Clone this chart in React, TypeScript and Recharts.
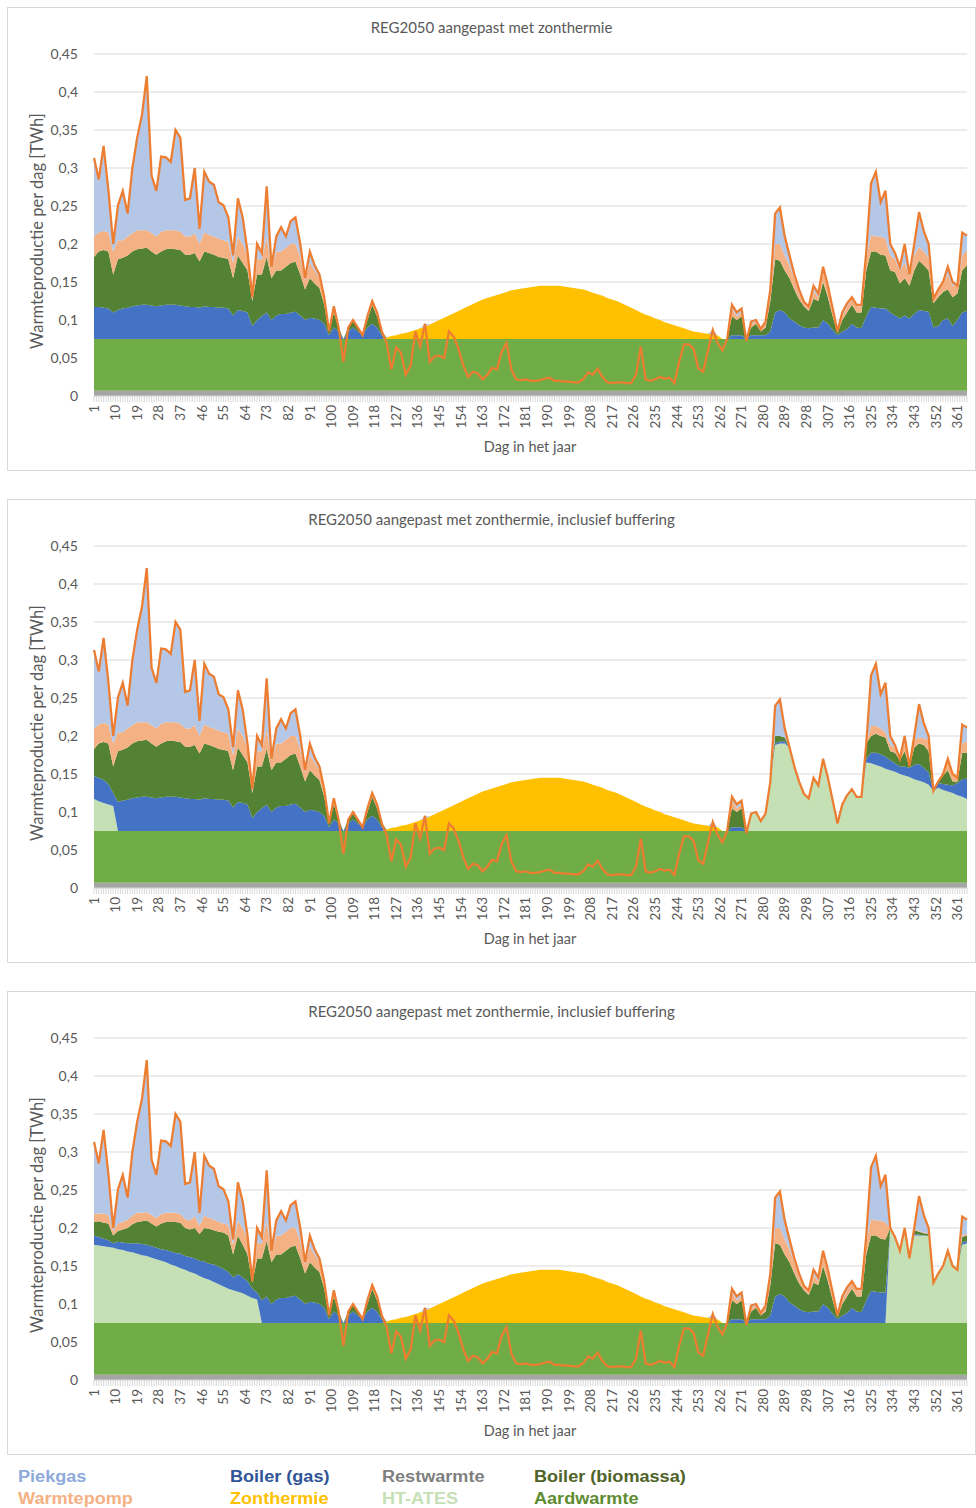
import React from 'react';
import { ComposedChart, Area, Line, XAxis, YAxis, CartesianGrid } from 'recharts';

// ---------- DATA (TWh per day), sampled every 2 days: day 1,3,5,...,365 ----------
const demand = [
  0.313, 0.285, 0.329, 0.271, 0.2, 0.251, 0.27, 0.24, 0.3, 0.34,
  0.37, 0.421, 0.29, 0.27, 0.315, 0.314, 0.308, 0.35, 0.34, 0.258,
  0.26, 0.3, 0.22, 0.295, 0.282, 0.278, 0.255, 0.251, 0.235, 0.185,
  0.26, 0.235, 0.19, 0.13, 0.2, 0.188, 0.276, 0.17, 0.21, 0.222,
  0.21, 0.23, 0.235, 0.2, 0.155, 0.19, 0.172, 0.16, 0.13, 0.085,
  0.118, 0.09, 0.045, 0.09, 0.1, 0.09, 0.08, 0.105, 0.125, 0.11,
  0.085, 0.07, 0.035, 0.064, 0.057, 0.028, 0.04, 0.085, 0.065, 0.095,
  0.045, 0.052, 0.053, 0.05, 0.085, 0.078, 0.062, 0.04, 0.025, 0.032,
  0.03, 0.022, 0.028, 0.037, 0.035, 0.058, 0.07, 0.035, 0.022, 0.021,
  0.022, 0.02, 0.02, 0.021, 0.023, 0.024, 0.02, 0.02, 0.019, 0.019,
  0.018, 0.018, 0.022, 0.031, 0.028, 0.036, 0.025, 0.018, 0.017, 0.018,
  0.018, 0.017, 0.017, 0.028, 0.065, 0.022, 0.02, 0.022, 0.025, 0.023,
  0.024, 0.017, 0.045, 0.068, 0.068, 0.062, 0.036, 0.032, 0.06, 0.087,
  0.07, 0.06, 0.075, 0.12, 0.11, 0.115, 0.072, 0.098, 0.1, 0.088,
  0.098, 0.14, 0.24, 0.248, 0.21, 0.185, 0.16, 0.14, 0.124, 0.118,
  0.145, 0.135, 0.17, 0.145, 0.115, 0.085, 0.11, 0.122, 0.13, 0.12,
  0.12, 0.19, 0.28, 0.295, 0.255, 0.27, 0.2, 0.188, 0.17, 0.2,
  0.16, 0.2, 0.242, 0.217, 0.2, 0.128, 0.14, 0.15, 0.17, 0.15,
  0.145, 0.215, 0.211,
];

const restwarmte = 0.007;
const aardwarmte = 0.068;

// Zonthermie thickness, days 123..263
const zonStart = 123;
const zonthermie = [
  0.002, 0.004, 0.005, 0.007, 0.008, 0.01, 0.012, 0.014, 0.016, 0.019,
  0.022, 0.025, 0.028, 0.031, 0.034, 0.037, 0.04, 0.043, 0.046, 0.049,
  0.052, 0.054, 0.056, 0.058, 0.06, 0.062, 0.064, 0.065, 0.066, 0.067,
  0.068, 0.069, 0.07, 0.07, 0.07, 0.07, 0.07, 0.069, 0.068, 0.067,
  0.066, 0.065, 0.063, 0.061, 0.059, 0.057, 0.054, 0.052, 0.05, 0.047,
  0.044, 0.041, 0.038, 0.035, 0.032, 0.03, 0.027, 0.025, 0.022, 0.02,
  0.018, 0.016, 0.014, 0.012, 0.01, 0.009, 0.008, 0.007, 0.006, 0.005,
  0,
];

// Chart 1 layer top levels (absolute), spring days 1..123 and autumn days 263..365
const gasTopSpring = [
  0.117, 0.117, 0.116, 0.115, 0.11, 0.113, 0.115, 0.116, 0.118, 0.119,
  0.12, 0.12, 0.119, 0.118, 0.119, 0.12, 0.12, 0.12, 0.119, 0.118,
  0.117, 0.117, 0.116, 0.118, 0.117, 0.117, 0.116, 0.116, 0.115, 0.106,
  0.113, 0.112, 0.11, 0.092, 0.1, 0.105, 0.11, 0.1, 0.106, 0.108,
  0.108, 0.11, 0.111, 0.106, 0.1, 0.103, 0.102, 0.1, 0.095, 0.08,
  0.09, 0.085, 0.075, 0.085, 0.09, 0.085, 0.08, 0.09, 0.095, 0.09,
  0.08, 0.075,
];
const bioTopSpring = [
  0.183, 0.19, 0.192, 0.19, 0.16, 0.18, 0.182, 0.185, 0.19, 0.193,
  0.194, 0.195, 0.19, 0.186, 0.19, 0.193, 0.194, 0.193, 0.192, 0.186,
  0.186, 0.188, 0.177, 0.19, 0.188, 0.186, 0.183, 0.182, 0.18, 0.155,
  0.185, 0.175, 0.165, 0.125, 0.16, 0.16, 0.183, 0.155, 0.165, 0.165,
  0.17, 0.175, 0.177, 0.16, 0.14, 0.155, 0.148, 0.142, 0.12, 0.085,
  0.11, 0.09, 0.075, 0.09, 0.1, 0.09, 0.08, 0.1, 0.12, 0.105,
  0.085, 0.075,
];
const wpTopSpring = [
  0.21, 0.215, 0.217, 0.215, 0.19, 0.205, 0.205, 0.21, 0.214, 0.218,
  0.218, 0.218, 0.214, 0.21, 0.216, 0.218, 0.218, 0.218, 0.216, 0.21,
  0.21, 0.214, 0.2, 0.215, 0.212, 0.21, 0.207, 0.205, 0.203, 0.175,
  0.21, 0.2, 0.185, 0.128, 0.18, 0.18, 0.21, 0.168, 0.19, 0.19,
  0.195, 0.2, 0.2, 0.183, 0.152, 0.175, 0.165, 0.155, 0.128, 0.085,
  0.118, 0.09, 0.075, 0.09, 0.1, 0.09, 0.08, 0.105, 0.125, 0.11,
  0.085, 0.075,
];
const gasTopAutumn = [
  0.075, 0.075, 0.08, 0.08, 0.08, 0.075, 0.08, 0.08, 0.08, 0.08,
  0.085, 0.11, 0.113, 0.11, 0.102, 0.098, 0.093, 0.09, 0.089, 0.09,
  0.09, 0.1, 0.095, 0.087, 0.08, 0.085, 0.088, 0.095, 0.09, 0.089,
  0.105, 0.117, 0.116, 0.115, 0.115, 0.11, 0.106, 0.102, 0.106, 0.102,
  0.108, 0.113, 0.112, 0.111, 0.09, 0.092, 0.1, 0.102, 0.092, 0.1,
  0.11, 0.112,
];
const bioTopAutumn = [
  0.06, 0.075, 0.105, 0.1, 0.105, 0.072, 0.09, 0.095, 0.085, 0.09,
  0.125, 0.18, 0.178, 0.165, 0.155, 0.14, 0.127, 0.118, 0.112, 0.128,
  0.125, 0.15, 0.13, 0.105, 0.083, 0.1, 0.11, 0.12, 0.11, 0.11,
  0.165, 0.19, 0.19, 0.186, 0.185, 0.165, 0.163, 0.148, 0.155, 0.145,
  0.165, 0.178, 0.172, 0.165, 0.122, 0.13, 0.137, 0.14, 0.13, 0.135,
  0.165, 0.172,
];
const wpTopAutumn = [
  0.06, 0.075, 0.115, 0.105, 0.11, 0.072, 0.095, 0.098, 0.087, 0.095,
  0.13, 0.2, 0.2, 0.185, 0.172, 0.155, 0.135, 0.122, 0.116, 0.138,
  0.13, 0.165, 0.14, 0.11, 0.085, 0.105, 0.118, 0.128, 0.118, 0.118,
  0.18, 0.212, 0.21, 0.21, 0.207, 0.185, 0.18, 0.165, 0.175, 0.158,
  0.185, 0.196, 0.19, 0.182, 0.126, 0.138, 0.148, 0.16, 0.145, 0.145,
  0.185, 0.192,
];

// Chart 2 (buffering): days 1..11 and 273..365 (0 = layer absent)
const ates2Spring = [0.117, 0.114, 0.112, 0.11, 0.108, 0];
const gas2Spring = [0.147, 0.145, 0.142, 0.137, 0.125, 0.113];
const ates2Autumn = [
  0.072, 0.098, 0.1, 0.088, 0.098, 0.14, 0.188, 0.19, 0.19, 0.185,
  0.16, 0.14, 0.124, 0.118, 0.145, 0.135, 0.17, 0.145, 0.115, 0.085,
  0.11, 0.122, 0.13, 0.12, 0.12, 0.165, 0.164, 0.162, 0.16, 0.157,
  0.155, 0.153, 0.15, 0.148, 0.146, 0.143, 0.141, 0.139, 0.136, 0.128,
  0.132, 0.129, 0.127, 0.125, 0.122, 0.12, 0.117,
];
const gas2Autumn = [
  0, 0, 0, 0, 0, 0, 0.19, 0.193, 0.193, 0,
  0, 0, 0, 0, 0, 0, 0, 0, 0, 0,
  0, 0, 0, 0, 0, 0.17, 0.178, 0.178, 0.176, 0.173,
  0.168, 0.164, 0.16, 0.16, 0.158, 0.162, 0.163, 0.158, 0.152, 0,
  0.138, 0.137, 0.136, 0.135, 0.138, 0.143, 0.144,
];
const bio2Autumn = [
  0, 0, 0, 0, 0, 0, 0.2, 0.2, 0.198, 0,
  0, 0, 0, 0, 0, 0, 0, 0, 0, 0,
  0, 0, 0, 0, 0, 0.19, 0.2, 0.203, 0.2, 0.198,
  0.18, 0.178, 0.168, 0.18, 0.16, 0.185, 0.19, 0.188, 0.18, 0,
  0.14, 0.148, 0.155, 0.14, 0.14, 0.178, 0.178,
];
const wp2Autumn = [
  0, 0, 0, 0, 0, 0, 0.2, 0.2, 0.198, 0,
  0, 0, 0, 0, 0, 0, 0, 0, 0, 0,
  0, 0, 0, 0, 0, 0.19, 0.213, 0.213, 0.21, 0.205,
  0.188, 0.185, 0.17, 0.19, 0.16, 0.195, 0.198, 0.197, 0.195, 0,
  0.14, 0.15, 0.17, 0.15, 0.145, 0.19, 0.193,
];

// Chart 3 (buffering): days 1..71 and 333..365
const ates3Spring = [
  0.178, 0.177, 0.176, 0.175, 0.174, 0.172, 0.171, 0.169, 0.168, 0.166,
  0.164, 0.163, 0.161, 0.159, 0.157, 0.155, 0.152, 0.15, 0.147, 0.145,
  0.142, 0.14, 0.137, 0.134, 0.132, 0.129, 0.126, 0.123, 0.12, 0.118,
  0.116, 0.114, 0.111, 0.108, 0.106, 0,
];
const gas3Spring = [
  0.19, 0.188, 0.186, 0.184, 0.18, 0.182, 0.181, 0.18, 0.18, 0.18,
  0.179, 0.178, 0.176, 0.174, 0.172, 0.171, 0.169, 0.167, 0.166, 0.163,
  0.162, 0.16, 0.157, 0.156, 0.153, 0.152, 0.149, 0.146, 0.142, 0.135,
  0.139, 0.135, 0.13, 0.12, 0.115, 0.105,
];
const bio3Spring = [
  0.208, 0.209, 0.207, 0.206, 0.19, 0.196, 0.198, 0.2, 0.205, 0.208,
  0.209, 0.21, 0.206, 0.202, 0.206, 0.208, 0.208, 0.208, 0.207, 0.2,
  0.198, 0.2, 0.192, 0.2, 0.199, 0.197, 0.195, 0.194, 0.19, 0.165,
  0.19, 0.178, 0.165, 0.128, 0.16, 0.16,
];
const wp3Spring = [
  0.218, 0.219, 0.219, 0.217, 0.196, 0.206, 0.208, 0.211, 0.216, 0.22,
  0.22, 0.221, 0.217, 0.213, 0.218, 0.22, 0.22, 0.22, 0.218, 0.212,
  0.21, 0.215, 0.203, 0.216, 0.213, 0.211, 0.208, 0.206, 0.204, 0.178,
  0.21, 0.2, 0.186, 0.13, 0.18, 0.18,
];
const ates3Autumn = [0.2, 0.188, 0.17, 0.2, 0.16, 0.19, 0.19, 0.19, 0.189, 0.128, 0.14, 0.15, 0.17, 0.15, 0.145, 0.178, 0.18];
const gas3Autumn = [0, 0, 0, 0, 0, 0.192, 0.191, 0.19, 0.19, 0, 0, 0, 0, 0, 0, 0.181, 0.183];
const bio3Autumn = [0, 0, 0, 0, 0, 0.197, 0.195, 0.193, 0.192, 0, 0, 0, 0, 0, 0, 0.188, 0.19];
const wp3Autumn = [0, 0, 0, 0, 0, 0.198, 0.196, 0.194, 0.193, 0, 0, 0, 0, 0, 0, 0.19, 0.192];

const xLabels = [1, 10, 19, 28, 37, 46, 55, 64, 73, 82, 91, 100, 109, 118, 127, 136, 145, 154, 163, 172, 181, 190, 199, 208, 217, 226, 235, 244, 253, 262, 271, 280, 289, 298, 307, 316, 325, 334, 343, 352, 361];
const yTicks = [0, 0.05, 0.1, 0.15, 0.2, 0.25, 0.3, 0.35, 0.4, 0.45];

// ---------- helpers ----------
type Seg = { start: number; values: number[] };
const lookup = (segs: Seg[], day: number): number => {
  for (const s of segs) {
    const k = (day - s.start) / 2;
    if (k >= 0 && k < s.values.length) return s.values[k];
  }
  return 0;
};

const gridDays = demand.map((_, i) => 1 + 2 * i);
const allDays = Array.from({ length: 365 }, (_, i) => i + 1);

const c1Gas: Seg[] = [{ start: 1, values: gasTopSpring }, { start: 263, values: gasTopAutumn }];
const c1Bio: Seg[] = [{ start: 1, values: bioTopSpring }, { start: 263, values: bioTopAutumn }];
const c1Wp: Seg[] = [{ start: 1, values: wpTopSpring }, { start: 263, values: wpTopAutumn }];
const zonSeg: Seg[] = [{ start: zonStart, values: zonthermie }];

type Cfg = { ates: Seg[]; gas: Seg[]; bio: Seg[]; wp: Seg[] };
const cfg1: Cfg = { ates: [], gas: c1Gas, bio: c1Bio, wp: c1Wp };
const cfg2: Cfg = {
  ates: [{ start: 1, values: ates2Spring }, { start: 273, values: ates2Autumn }],
  gas: [{ start: 1, values: gas2Spring }, { start: 273, values: gas2Autumn }, ...c1Gas],
  bio: [{ start: 273, values: bio2Autumn }, ...c1Bio],
  wp: [{ start: 273, values: wp2Autumn }, ...c1Wp],
};
const cfg3: Cfg = {
  ates: [{ start: 1, values: ates3Spring }, { start: 333, values: ates3Autumn }],
  gas: [{ start: 1, values: gas3Spring }, { start: 333, values: gas3Autumn }, ...c1Gas],
  bio: [{ start: 1, values: bio3Spring }, { start: 333, values: bio3Autumn }, ...c1Bio],
  wp: [{ start: 1, values: wp3Spring }, { start: 333, values: wp3Autumn }, ...c1Wp],
};

const buildRows = (cfg: Cfg) =>
  gridDays.map((day, i) => {
    const d = demand[i];
    const base = restwarmte + aardwarmte;
    const zon = lookup(zonSeg, day);
    const a = Math.max(base, Math.min(lookup(cfg.ates, day), d));
    const z = a + zon;
    const g = Math.max(z, Math.min(lookup(cfg.gas, day), d));
    const b = Math.max(g, Math.min(lookup(cfg.bio, day), d));
    const w = Math.max(b, Math.min(lookup(cfg.wp, day), d));
    const p = Math.max(w, d);
    return {
      day,
      rest: restwarmte,
      aard: aardwarmte,
      ates: a - base,
      zon,
      gas: g - z,
      bio: b - g,
      wp: w - b,
      piek: p - w,
      vraag: d,
    };
  });

const series = [
  { key: 'rest', color: '#a5a5a5' },
  { key: 'aard', color: '#70ad47' },
  { key: 'ates', color: '#c5e0b4' },
  { key: 'zon', color: '#ffc000' },
  { key: 'gas', color: '#4472c4' },
  { key: 'bio', color: '#548235' },
  { key: 'wp', color: '#f4b183' },
  { key: 'piek', color: '#b4c7e7' },
];

const FONT = "Lato, 'Open Sans', sans-serif";
const GREY = '#595959';

const XTick = (props: any) => {
  const { x, y, payload } = props;
  const v = payload.value;
  return (
    <g>
      <line x1={x} x2={x} y1={y} y2={y + 6} stroke="#d9d9d9" strokeWidth={1} />
      {xLabels.includes(v) && (
        <text
          x={x}
          y={y + 9}
          transform={`rotate(-90 ${x} ${y + 9})`}
          textAnchor="end"
          dy="0.35em"
          fill={GREY}
          fontSize={13.5}
          fontFamily={FONT}
        >
          {v}
        </text>
      )}
    </g>
  );
};

const fmt = (v: number) => String(v).replace('.', ',');

const Panel = ({ title, cfg }: { title: string; cfg: Cfg }) => {
  const rows = buildRows(cfg);
  return (
    <div
      style={{
        position: 'relative',
        width: 969,
        height: 464,
        boxSizing: 'border-box',
        border: '1px solid #d9d9d9',
        background: '#fff',
        fontFamily: FONT,
        color: GREY,
      }}
    >
      <div style={{ position: 'absolute', left: 0, right: 0, top: 19, transform: 'translateY(-50%)', textAlign: 'center', fontSize: 15 }}>
        {title}
      </div>
      <div
        style={{
          position: 'absolute',
          left: 29,
          top: 223,
          transform: 'translate(-50%,-50%) rotate(-90deg)',
          whiteSpace: 'nowrap',
          fontSize: 16.5,
        }}
      >
        Warmteproductie per dag [TWh]
      </div>
      <div style={{ position: 'absolute', left: 522, top: 438, transform: 'translate(-50%,-50%)', whiteSpace: 'nowrap', fontSize: 14.5 }}>
        Dag in het jaar
      </div>
      <ComposedChart width={967} height={462} data={rows} margin={{ top: 46, right: 8, left: 0, bottom: 0 }}>
        <CartesianGrid vertical={false} stroke="#d9d9d9" />
        <XAxis
          type="number"
          dataKey="day"
          domain={[1, 365]}
          ticks={allDays}
          interval={0}
          tick={(p: any) => <XTick {...p} />}
          tickLine={false}
          tickSize={0}
          tickMargin={0}
          axisLine={{ stroke: '#d9d9d9' }}
          height={74}
        />
        <YAxis
          domain={[0, 0.45]}
          ticks={yTicks}
          width={86}
          tickFormatter={fmt}
          axisLine={false}
          tickLine={false}
          tickMargin={10}
          tick={{ fill: GREY, fontSize: 14, fontFamily: FONT }}
        />
        {series.map((s) => (
          <Area
            key={s.key}
            type="linear"
            dataKey={s.key}
            stackId="1"
            stroke="none"
            fill={s.color}
            fillOpacity={1}
            isAnimationActive={false}
            activeDot={false}
          />
        ))}
        <Line type="linear" dataKey="vraag" stroke="#ed7d31" strokeWidth={2.25} dot={false} activeDot={false} isAnimationActive={false} />
      </ComposedChart>
    </div>
  );
};

const legendItems = [
  { name: 'Piekgas', color: '#8eaadb' },
  { name: 'Warmtepomp', color: '#f4b183' },
  { name: 'Boiler (gas)', color: '#2f5597' },
  { name: 'Zonthermie', color: '#ffc000' },
  { name: 'Restwarmte', color: '#7f7f7f' },
  { name: 'HT-ATES', color: '#c5e0b4' },
  { name: 'Boiler (biomassa)', color: '#4f6228' },
  { name: 'Aardwarmte', color: '#5e8c31' },
];
const legendCols = [11, 223, 375, 527];
const legendRows = [1470, 1492];

export default function App() {
  return (
    <div style={{ position: 'absolute', left: 7, top: 7, width: 969 }}>
      <Panel title="REG2050 aangepast met zonthermie" cfg={cfg1} />
      <div style={{ height: 28 }} />
      <Panel title="REG2050 aangepast met zonthermie, inclusief buffering" cfg={cfg2} />
      <div style={{ height: 28 }} />
      <Panel title="REG2050 aangepast met zonthermie, inclusief buffering" cfg={cfg3} />
      {legendItems.map((it, i) => (
        <div
          key={it.name}
          style={{
            position: 'absolute',
            left: legendCols[Math.floor(i / 2)],
            top: legendRows[i % 2],
            transform: 'translateY(-50%) scaleX(1.13)',
            transformOrigin: 'left center',
            color: it.color,
            fontFamily: "'Liberation Sans', Arial, sans-serif",
            fontWeight: 700,
            fontSize: 16,
            whiteSpace: 'nowrap',
          }}
        >
          {it.name}
        </div>
      ))}
    </div>
  );
}
